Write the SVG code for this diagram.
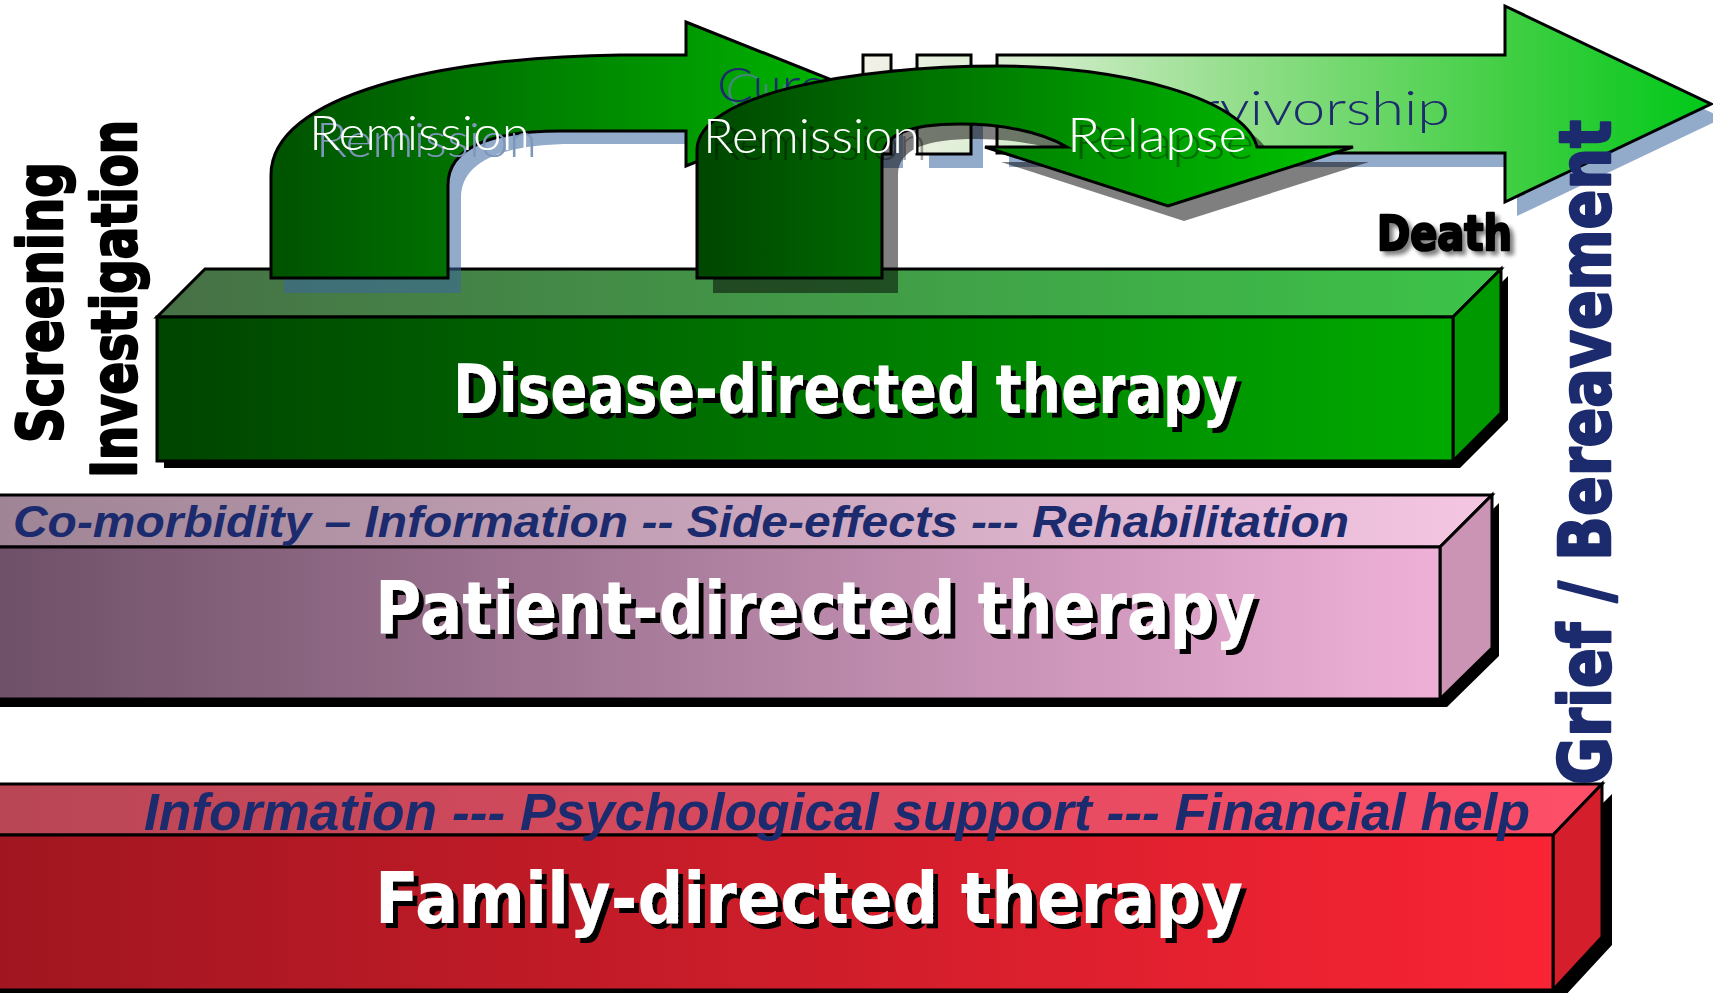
<svg xmlns="http://www.w3.org/2000/svg" width="1713" height="993" viewBox="0 0 1713 993">
<defs>
<linearGradient id="gSurv" gradientUnits="userSpaceOnUse" x1="863" y1="0" x2="1711" y2="0">
<stop offset="0" stop-color="#f2f1e8"/><stop offset="0.2" stop-color="#d4edcc"/><stop offset="0.45" stop-color="#92de8a"/><stop offset="0.75" stop-color="#44cf46"/><stop offset="1" stop-color="#00c818"/>
</linearGradient>
<linearGradient id="gA1" x1="0" y1="0" x2="1" y2="0"><stop offset="0" stop-color="#005200"/><stop offset="0.7" stop-color="#009a00"/><stop offset="1" stop-color="#00bb00"/></linearGradient>
<linearGradient id="gA2" x1="0" y1="0" x2="1" y2="0"><stop offset="0" stop-color="#004600"/><stop offset="1" stop-color="#00c600"/></linearGradient>
<linearGradient id="gDf" x1="0" y1="0" x2="1" y2="0"><stop offset="0" stop-color="#004400"/><stop offset="1" stop-color="#00aa00"/></linearGradient>
<linearGradient id="gDt" x1="0" y1="0" x2="1" y2="0"><stop offset="0" stop-color="#477046"/><stop offset="1" stop-color="#3cc448"/></linearGradient>
<linearGradient id="gPf" x1="0" y1="0" x2="1" y2="0"><stop offset="0" stop-color="#6e5068"/><stop offset="1" stop-color="#efb0d8"/></linearGradient>
<linearGradient id="gPt" x1="0" y1="0" x2="1" y2="0"><stop offset="0" stop-color="#9e8494"/><stop offset="1" stop-color="#f5c6e2"/></linearGradient>
<linearGradient id="gFf" x1="0" y1="0" x2="1" y2="0"><stop offset="0" stop-color="#a01620"/><stop offset="1" stop-color="#f92434"/></linearGradient>
<linearGradient id="gFt" x1="0" y1="0" x2="1" y2="0"><stop offset="0" stop-color="#b84655"/><stop offset="1" stop-color="#ff4f68"/></linearGradient>
<filter id="shTitle" x="-5%" y="-30%" width="115%" height="160%">
<feOffset in="SourceAlpha" dx="5" dy="5" result="o"/><feFlood flood-color="#000"/><feComposite in2="o" operator="in" result="s"/>
<feMerge><feMergeNode in="s"/><feMergeNode in="SourceGraphic"/></feMerge></filter>
<filter id="shBlue" x="-5%" y="-30%" width="115%" height="160%">
<feOffset in="SourceAlpha" dx="7" dy="7" result="o"/><feFlood flood-color="#7d97bb"/><feComposite in2="o" operator="in" result="s"/>
<feMerge><feMergeNode in="s"/><feMergeNode in="SourceGraphic"/></feMerge></filter>
<filter id="shCure" x="-5%" y="-30%" width="125%" height="160%">
<feOffset in="SourceAlpha" dx="8" dy="6" result="o"/><feFlood flood-color="#5b7fa8" flood-opacity=".7"/><feComposite in2="o" operator="in" result="s"/>
<feMerge><feMergeNode in="s"/><feMergeNode in="SourceGraphic"/></feMerge></filter>
<filter id="shDark" x="-5%" y="-30%" width="115%" height="160%">
<feOffset in="SourceAlpha" dx="7" dy="7" result="o"/><feFlood flood-color="#000" flood-opacity=".35"/><feComposite in2="o" operator="in" result="s"/>
<feMerge><feMergeNode in="s"/><feMergeNode in="SourceGraphic"/></feMerge></filter>
<filter id="shDeath" x="-10%" y="-30%" width="130%" height="170%">
<feOffset in="SourceAlpha" dx="4" dy="4" result="o"/><feGaussianBlur in="o" stdDeviation="2" result="b"/><feFlood flood-color="#000" flood-opacity=".5"/><feComposite in2="b" operator="in" result="s"/>
<feMerge><feMergeNode in="s"/><feMergeNode in="SourceGraphic"/></feMerge></filter>
<style>
.ol{stroke:#000;stroke-width:3;stroke-linejoin:miter}
.bsh{fill:#3a66a0;opacity:.55}
.gsh{fill:#000;opacity:.5}
.light{font-family:Lato,"DejaVu Sans",sans-serif;font-weight:300;font-size:48px}
.title{font-family:"DejaVu Sans","Liberation Sans",sans-serif;font-weight:bold;fill:#fff}
.sub{font-family:"Liberation Sans",Arial,sans-serif;font-weight:bold;font-style:italic;fill:#1c2a6e}
.heavy{font-family:"DejaVu Sans","Liberation Sans",sans-serif;font-weight:bold;stroke-width:2.5;stroke-linejoin:round}
</style>
</defs>
<rect width="1713" height="993" fill="#fff"/>

<g id="disease-box">
<polygon points="164,324 1460,324 1508,276 1508,420 1460,468 164,468" fill="#000"/>
<polygon class="ol" points="157,317 205,269 1501,269 1453,317" fill="url(#gDt)"/>
<polygon class="ol" points="1453,317 1501,269 1501,413 1453,461" fill="#009a00"/>
<rect class="ol" x="157" y="317" width="1296" height="144" fill="url(#gDf)"/>
</g>

<g id="patient-box">
<polygon points="-5,555 1447,555 1499,503 1499,656 1447,707 -5,707" fill="#000"/>
<polygon class="ol" points="-5,495 1492,495 1440,547 -5,547" fill="url(#gPt)"/>
<polygon class="ol" points="1440,547 1492,495 1492,648 1440,699" fill="#cc94b4"/>
<rect class="ol" x="-5" y="547" width="1445" height="152" fill="url(#gPf)"/>
</g>

<g id="family-box">
<polygon points="-5,843 1563,843 1612,794 1612,945 1563,998 -5,998" fill="#000"/>
<polygon class="ol" points="-5,784 1602,784 1553,835 -5,835" fill="url(#gFt)"/>
<polygon class="ol" points="1553,835 1602,784 1602,937 1553,990" fill="#d41e2c"/>
<rect class="ol" x="-5" y="835" width="1558" height="155" fill="url(#gFf)"/>
</g>

<g id="connectors">
<g id="survivorship-arrow">
<rect class="bsh" x="875" y="69" width="28" height="99"/>
<rect class="bsh" x="929" y="69" width="54" height="99"/>
<path class="bsh" d="M1009,69 L1517,69 L1517,20 L1723,118 L1517,216 L1517,167 L1009,167 Z"/>
<rect class="ol" x="863" y="55" width="28" height="99" fill="url(#gSurv)"/>
<rect class="ol" x="917" y="55" width="54" height="99" fill="url(#gSurv)"/>
<path class="ol" d="M997,55 L1505,55 L1505,6 L1711,104 L1505,202 L1505,153 L997,153 Z" fill="url(#gSurv)"/>
<text x="1135" y="125" class="light" fill="#1c2a6e" textLength="315" lengthAdjust="spacingAndGlyphs">Survivorship</text>
</g>
<g id="arrow-remission-1">
<path class="bsh" d="M284,293 L284,190 C284,110 453,70 633,68 L699,68 L699,35 L880,107 L699,179 L699,144 L573,144 C503,144 461,161 461,198 L461,293 Z"/>
<path class="ol" d="M271,278 L271,175 C271,95 440,57 620,55 L686,55 L686,22 L867,94 L686,166 L686,131 L560,131 C490,131 448,148 448,185 L448,278 Z" fill="url(#gA1)"/>
<text x="309" y="150" class="light" fill="#fff" filter="url(#shBlue)" textLength="221" lengthAdjust="spacingAndGlyphs">Remission</text>
<text x="717" y="102" class="light" fill="#1c2a6e" filter="url(#shCure)" textLength="110" lengthAdjust="spacingAndGlyphs">Cure</text>
</g>
<g id="arrow-remission-relapse">
<path class="gsh" d="M713,293 L713,165 C713,110 866,81 1016,81 C1136,81 1261,113 1273,162 L1369,162 L1184,221 L1001,162 L1083,162 C1056,146 1016,139 976,139 C926,139 898,149 898,175 L898,293 Z"/>
<path class="ol" d="M697,278 L697,150 C697,95 850,66 1000,66 C1120,66 1245,98 1257,147 L1353,147 L1168,206 L985,147 L1067,147 C1040,131 1000,124 960,124 C910,124 882,134 882,160 L882,278 Z" fill="url(#gA2)"/>
<text x="703" y="153" class="light" fill="#fff" filter="url(#shDark)" textLength="217" lengthAdjust="spacingAndGlyphs">Remission</text>
<text x="1067" y="152" class="light" fill="#fff" filter="url(#shDark)" textLength="180" lengthAdjust="spacingAndGlyphs">Relapse</text>
</g>
</g>

<g id="disease-label">
<text x="453" y="413" class="title" font-size="67" filter="url(#shTitle)" textLength="785" lengthAdjust="spacingAndGlyphs">Disease-directed therapy</text>
</g>
<g id="patient-label">
<text x="13" y="537" class="sub" font-size="45" textLength="1336" lengthAdjust="spacingAndGlyphs">Co-morbidity – Information -- Side-effects --- Rehabilitation</text>
<text x="375" y="634" class="title" font-size="73" filter="url(#shTitle)" textLength="881" lengthAdjust="spacingAndGlyphs">Patient-directed therapy</text>
</g>
<g id="family-label">
<text x="144" y="830" class="sub" font-size="51" textLength="1386" lengthAdjust="spacingAndGlyphs">Information --- Psychological support --- Financial help</text>
<text x="375" y="923" class="title" font-size="72" filter="url(#shTitle)" textLength="868" lengthAdjust="spacingAndGlyphs">Family-directed therapy</text>
</g>

<g id="side-labels">
<text transform="translate(62,443) rotate(-90)" class="heavy" font-size="62" fill="#000" stroke="#000" textLength="281" lengthAdjust="spacingAndGlyphs">Screening</text>
<text transform="translate(136,478) rotate(-90)" class="heavy" font-size="62" fill="#000" stroke="#000" textLength="358" lengthAdjust="spacingAndGlyphs">Investigation</text>
<text transform="translate(1610,785) rotate(-90)" class="heavy" font-size="72" fill="#1c2a6e" stroke="#1c2a6e" textLength="665" lengthAdjust="spacingAndGlyphs">Grief / Bereavement</text>
</g>

<g id="death-label">
<text x="1377" y="250" class="heavy" font-size="48" fill="#000" stroke="#000" stroke-width="1.5" filter="url(#shDeath)" textLength="135" lengthAdjust="spacingAndGlyphs">Death</text>
</g>
</svg>
